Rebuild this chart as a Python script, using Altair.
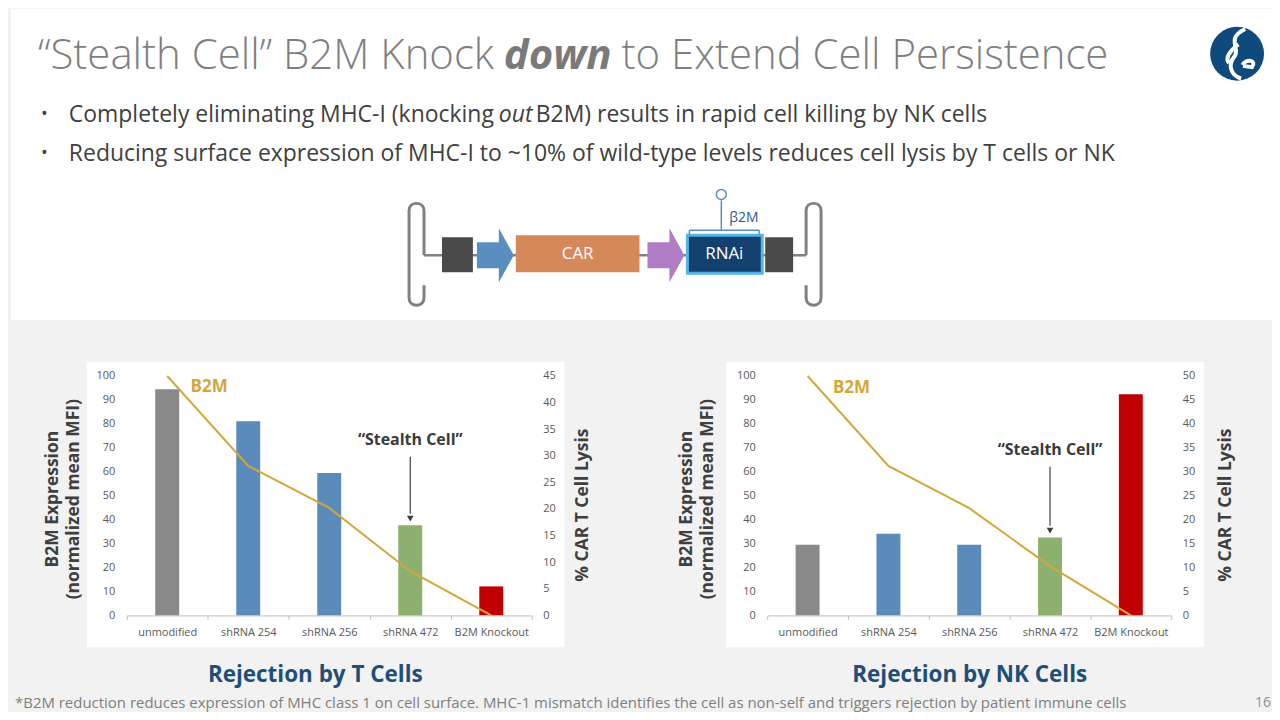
import altair as alt
import pandas as pd

F = "Open Sans"

# ---------------- data ----------------
categories = ["unmodified", "shRNA 254", "shRNA 256", "shRNA 472", "B2M Knockout"]
bar_colors = ["#898989", "#5b8bba", "#5b8bba", "#8cb06d", "#c00000"]

t_b2m = [94.4, 81.1, 59.5, 37.6, 12.1]
t_lysis = [45.0, 28.1, 20.2, 8.3, 0.0]
nk_b2m = [29.5, 34.1, 29.5, 32.5, 92.4]
nk_lysis = [50.0, 31.2, 22.4, 10.3, 0.0]

b2m_ticks = list(range(0, 110, 10))
t_lysis_ticks = list(range(0, 50, 5))
nk_lysis_ticks = list(range(0, 55, 5))

stealth_category = "shRNA 472"
# [label y, arrow top, arrow head] in B2M-axis units
t_stealth = [73.3, 66.3, 40.4]
nk_stealth = [69.2, 62.1, 35.4]
b2m_label_y = [95.4, 95.1]

title_parts = ["\u201cStealth Cell\u201d B2M Knock", "down", " to Extend Cell Persistence"]
bullet1_parts = ["Completely eliminating MHC-I (knocking ", "out", " B2M) results in rapid cell killing by NK cells"]
bullet2 = "Reducing surface expression of MHC-I to ~10% of wild-type levels reduces cell lysis by T cells or NK"
footnote = ("*B2M reduction reduces expression of MHC class 1 on cell surface. MHC-1 mismatch identifies "
            "the cell as non-self and triggers rejection by patient immune cells")

one = pd.DataFrame({"k": [0]})

PH = 240
AXT = 17.5  # axis title size


def vtext(x, y, text, **kw):
    return alt.Chart(one).mark_text(**kw).encode(
        x=alt.value(x), y=alt.value(y), text=alt.value(text))


def vrect(x, x2, y, y2, **kw):
    return alt.Chart(one).mark_rect(**kw).encode(
        x=alt.value(x), x2=alt.value(x2), y=alt.value(y), y2=alt.value(y2))


def vrule(x, x2, y, y2, **kw):
    return alt.Chart(one).mark_rule(**kw).encode(
        x=alt.value(x), x2=alt.value(x2), y=alt.value(y), y2=alt.value(y2))


def vshape(x, y, shape, size, **kw):
    return alt.Chart(one).mark_point(shape=shape, size=size, **kw).encode(
        x=alt.value(x), y=alt.value(y))


def panel(width, b2m, lysis, lysis_ticks, stealth, b2m_y, b2m_dx, ltx, rtx, box, extras, bg=None):
    df = pd.DataFrame({"category": categories, "b2m": b2m, "lysis": lysis})
    xenc = alt.X("category:N", sort=categories,
                 scale=alt.Scale(domain=categories, paddingInner=0, paddingOuter=0),
                 axis=alt.Axis(title=None, labelAngle=0, labelFont=F, labelFontSize=11,
                               labelColor="#595959", labelPadding=7, tickBand="extent",
                               tickSize=4, tickColor="#bfbfbf", domainColor="#bfbfbf",
                               grid=False, zindex=1))
    yaxis = alt.Axis(values=b2m_ticks, title=["B2M Expression", "(normalized mean MFI)"],
                     titleFont=F, titleFontSize=AXT, titleFontWeight="bold", titleColor="#3f3f3f",
                     titleAngle=270, titleX=ltx, titleY=PH / 2 + 3, titleAlign="center",
                     titleBaseline="middle", titleLineHeight=21, domain=False, ticks=False,
                     tickSize=0, grid=False, labelFont=F, labelFontSize=11, labelColor="#595959",
                     labelPadding=12, zindex=1)
    yscale = alt.Scale(domain=[0, 100])
    yenc = alt.Y("b2m:Q", scale=yscale, axis=yaxis)

    layers = []
    if bg is not None:
        layers.append(bg)
    layers.append(vrect(box[0], box[1], box[2], box[3], fill="white"))

    bars = alt.Chart(df).mark_bar(size=24).encode(
        x=xenc, y=yenc,
        color=alt.Color("category:N", scale=alt.Scale(domain=categories, range=bar_colors), legend=None))
    layers.append(bars)

    sdf_text = pd.DataFrame({"category": [stealth_category], "b2m": [stealth[0]]})
    sdf_rule = pd.DataFrame({"category": [stealth_category], "b2m": [stealth[1]], "b2m_end": [stealth[2] + 2]})
    sdf_head = pd.DataFrame({"category": [stealth_category], "b2m": [stealth[2]]})
    layers.append(alt.Chart(sdf_text).mark_text(font=F, fontSize=16, fontWeight="bold", color="#3a3a3a").encode(
        x=xenc, y=yenc, text=alt.value("\u201cStealth Cell\u201d")))
    layers.append(alt.Chart(sdf_rule).mark_rule(color="#404040", strokeWidth=1.2).encode(
        x=xenc, y=yenc, y2="b2m_end:Q"))
    layers.append(alt.Chart(sdf_head).mark_point(shape="triangle-down", size=45, filled=True,
                                                 color="#404040", opacity=1).encode(x=xenc, y=yenc))
    ldf = pd.DataFrame({"category": [categories[0]], "b2m": [b2m_y]})
    layers.append(alt.Chart(ldf).mark_text(font=F, fontSize=17, fontWeight="bold", color="#d4a63c",
                                           dx=b2m_dx).encode(x=xenc, y=yenc, text=alt.value("B2M")))
    layers.extend(extras)

    inner = alt.layer(*layers)

    line = alt.Chart(df).mark_line(color="#d4a63c", strokeWidth=2).encode(
        x=xenc,
        y=alt.Y("lysis:Q", scale=alt.Scale(domain=[0, lysis_ticks[-1]]),
                axis=alt.Axis(orient="right", values=lysis_ticks, title="% CAR T Cell Lysis",
                              titleFont=F, titleFontSize=AXT, titleFontWeight="bold",
                              titleColor="#3f3f3f", titleAngle=270, titleX=rtx, titleY=PH / 2 + 9,
                              titleAlign="center", titleBaseline="middle", domain=False,
                              ticks=False, tickSize=0, grid=False, labelFont=F, labelFontSize=11,
                              labelColor="#595959", labelPadding=11, zindex=1)))
    return alt.layer(inner, line).resolve_scale(y="independent").properties(width=width, height=PH)


# ---------------- bottom panels ----------------
bg_gray = vrect(-116, 1148, -56, 336, fill="#f2f2f2")
left_extras = [
    vtext(189, 300, "Rejection by T Cells", font=F, fontSize=22.5, fontWeight="bold", color="#1f4e79"),
    vtext(-112, 328, footnote, font=F, fontSize=15, color="#7f7f7f", align="left"),
]
right_extras = [
    vtext(203, 300, "Rejection by NK Cells", font=F, fontSize=22.5, fontWeight="bold", color="#1f4e79"),
    vtext(497, 328, "16", font=F, fontSize=14, color="#8f8f8f"),
]

left = panel(406, t_b2m, t_lysis, t_lysis_ticks, t_stealth, b2m_label_y[0], 42, -74, 51,
             (-40, 439, -14, 272), left_extras, bg=bg_gray)
right = panel(405, nk_b2m, nk_lysis, nk_lysis_ticks, nk_stealth, b2m_label_y[1], 44, -81, 54,
              (-41, 438, -14, 272), right_extras)


def spacer(w):
    return alt.Chart(one).mark_point(opacity=0).encode(
        x=alt.value(0), y=alt.value(0)).properties(width=w, height=PH)


bottom = alt.hconcat(spacer(116), left, spacer(236), right, spacing=0, bounds="flush")

# ---------------- top (title, bullets, construct diagram, logo) ----------------
GRAY_LINE = "#808080"
bracket_left = ("M0.15,0.02 L0.15,-0.87 C0.15,-1.07 -0.15,-1.07 -0.15,-0.87 "
                "L-0.15,0.87 C-0.15,1.07 0.15,1.07 0.15,0.87 L0.15,0.62")
bracket_right = ("M-0.15,0.02 L-0.15,-0.87 C-0.15,-1.07 0.15,-1.07 0.15,-0.87 "
                 "L0.15,0.87 C0.15,1.07 -0.15,1.07 -0.15,0.87 L-0.15,0.62")
arrow_shape = "M-0.685,-0.48 L0.13,-0.48 L0.13,-1 L0.685,0 L0.13,1 L0.13,0.48 L-0.685,0.48 Z"
logo_shape = ("M0.3,-0.92 C-0.45,-0.55 0.15,-0.2 -0.1,0.1 C-0.35,0.4 -0.25,0.8 0.15,0.92 "
              "M0.05,-0.35 C-0.3,-0.1 -0.45,0.2 -0.3,0.35 "
              "M0.2,0.42 C0.35,0.15 0.75,0.25 0.55,0.5 L0.22,0.45")

top_layers = [
    vrect(0, 1264, 0, 312, fill="white"),
    # title
    vtext(27, 60, title_parts[0], font=F, fontSize=42, fontWeight=300, color="#7f7f7f",
          align="left", baseline="alphabetic"),
    vtext(494, 60, title_parts[1], font=F, fontSize=42, fontWeight="bold", fontStyle="italic",
          color="#7a7a7a", align="left", baseline="alphabetic"),
    vtext(612, 60, title_parts[2], font=F, fontSize=42, fontWeight=300, color="#7f7f7f",
          align="left", baseline="alphabetic"),
    # bullets
    vtext(30, 106, "\u2022", font=F, fontSize=18, color="#404040", align="left"),
    vtext(30, 146, "\u2022", font=F, fontSize=18, color="#404040", align="left"),
    vtext(58, 106, bullet1_parts[0], font=F, fontSize=23, color="#404040", align="left"),
    vtext(489, 106, bullet1_parts[1], font=F, fontSize=23, fontStyle="italic", color="#404040", align="left"),
    vtext(526, 106, bullet1_parts[2], font=F, fontSize=23, color="#404040", align="left"),
    vtext(58, 146, bullet2, font=F, fontSize=23, color="#404040", align="left"),
    # construct diagram
    vrule(414, 797, 247, 247, color=GRAY_LINE, strokeWidth=2.5),
    vshape(406.5, 246, bracket_left, 10000, filled=False, color=GRAY_LINE, strokeWidth=3, opacity=1),
    vshape(804.5, 246, bracket_right, 10000, filled=False, color=GRAY_LINE, strokeWidth=3, opacity=1),
    vrect(432, 463, 229, 264, fill="#4a4a4a"),
    vrect(756, 784, 229, 264, fill="#4a4a4a"),
    vshape(485.5, 247, arrow_shape, 2916, filled=True, color="#5b8ec0", opacity=1, strokeWidth=0),
    vshape(656.5, 247, arrow_shape, 2916, filled=True, color="#b07cc6", opacity=1, strokeWidth=0),
    vrect(506, 630, 227, 264, fill="#d5895a"),
    vtext(568, 246, "CAR", font=F, fontSize=17, color="white"),
    vrect(678, 753, 227, 265, fill="#12406f", stroke="#55b4e6", strokeWidth=3),
    vtext(715, 246, "RNAi", font=F, fontSize=17, color="white"),
    vrule(680, 750, 222, 222, color="#5b8ec0", strokeWidth=1.5),
    vrule(680, 680, 222, 226, color="#5b8ec0", strokeWidth=1.5),
    vrule(750, 750, 222, 226, color="#5b8ec0", strokeWidth=1.5),
    vrule(712, 712, 192, 222, color="#5b8ec0", strokeWidth=1.5),
    vshape(712, 186, "circle", 100, filled=False, color="#5b8ec0", strokeWidth=1.5, opacity=1),
    vtext(720, 210, "\u03b22M", font=F, fontSize=14, color="#2e5d8a", align="left"),
    # logo
    vshape(1229, 45, "circle", 2916, filled=True, color="#0e4a7e", opacity=1),
    vshape(1229, 45, logo_shape, 2916, filled=False, color="white", strokeWidth=4, opacity=1),
]
top = alt.layer(*top_layers).properties(width=1264, height=368)

chart = alt.vconcat(top, bottom, spacing=0, bounds="flush").properties(
    padding=0, background="#f2f2f2"
).configure_view(stroke=None)

chart.save("out.html", embed_options={"renderer": "svg", "actions": False})
